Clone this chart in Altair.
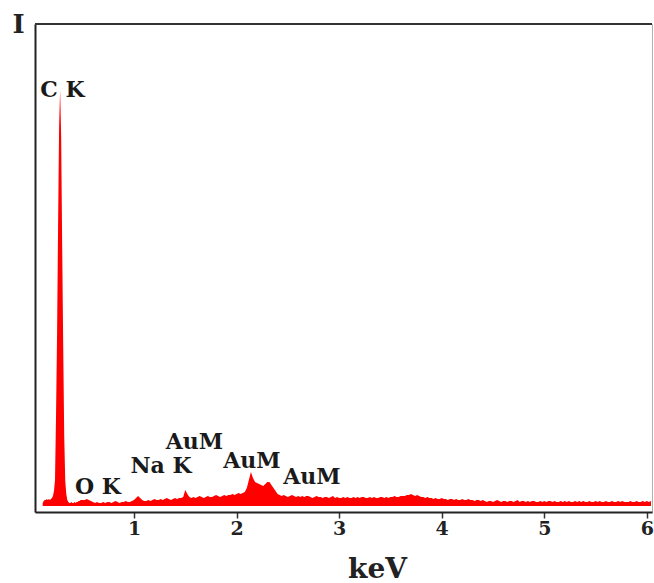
import altair as alt
import numpy as np
import pandas as pd

# EDS spectrum intensities (arbitrary units)
# fine part: 0.11 .. 0.50 keV, step 0.01 keV (C K peak)
counts_fine = [3, 5, 6, 6, 7, 6, 7, 6, 7, 8,
               10, 15, 26, 90, 170, 280, 380, 416, 370, 260,
               160, 70, 25, 12, 6, 4, 3, 3, 4, 3,
               3, 4, 3, 4, 4, 5, 5, 6, 6, 6]
# coarse part: 0.52 .. 6.04 keV, step 0.02 keV
counts_coarse = (
    [6, 7, 6, 5, 4]                                              # 0.52-0.60 O K
    + [3, 4, 3, 3, 4, 3, 4, 4, 3, 4, 5, 4, 3, 4, 4, 5, 4, 4, 5]  # 0.62-0.98
    + [6, 8, 10, 8, 6, 5]                                        # 1.00-1.10 Na K
    + [5, 6, 5, 6, 7, 6, 6, 7, 6, 7, 8, 7, 6, 7, 8, 7, 8, 8, 9]  # 1.12-1.48
    + [16, 12, 9]                                                # 1.50-1.54
    + [8, 9, 8, 9, 10, 9, 8, 9, 10, 9, 9, 10, 11, 10, 9, 10, 11, 10, 11, 11, 12, 11]  # 1.56-1.98
    + [12, 13, 12, 13, 14]                                       # 2.00-2.08
    + [18, 26, 34, 28, 24, 23, 22, 21, 20, 22, 24, 24, 21, 18, 15, 12, 11]  # 2.10-2.42 Au M
    + [10, 11, 10, 9, 10, 11, 10, 9, 10, 9, 10, 9, 10, 10, 9, 8, 9, 10, 9, 9,
       8, 9, 9, 8, 9, 10, 8, 9, 8]                               # 2.44-3.00
    + [8, 9, 8, 9, 8, 8, 9, 8, 9, 8, 9, 9, 8, 8, 9, 8, 9, 8, 8, 9,
       9, 8, 9, 8, 9, 9, 10, 9, 9, 10]                           # 3.02-3.60
    + [10, 10, 11, 11, 12, 11, 10, 11, 10, 9, 9, 8, 9]           # 3.62-3.86
    + [8, 8, 7, 8, 7, 7, 8, 7, 7, 6, 7, 7, 6, 7, 6, 6, 7, 6, 6, 7,
       6, 6, 5, 6, 6, 5, 6]                                      # 3.88-4.40
    + [5, 4, 5, 5, 4, 5, 6, 5, 4, 5, 5, 4, 5, 5, 4, 5, 6, 4, 5, 5,
       4, 5, 4, 5, 5, 4, 4, 5, 4, 5, 4, 5, 5, 4, 5, 4, 4, 5, 4, 5,
       4, 5, 4, 4, 5, 4, 5, 4, 5, 4, 4, 5, 4, 4, 5]             # 4.42-5.50
    + [4, 5, 4, 4, 5, 4, 4, 5, 4, 4, 5, 4, 5, 4, 4, 4, 5, 4, 4, 5,
       4, 4, 5, 4, 5, 4, 5]                                      # 5.52-6.04
)

kev_fine = np.round(0.11 + 0.01 * np.arange(len(counts_fine)), 3)
kev_coarse = np.round(0.52 + 0.02 * np.arange(len(counts_coarse)), 3)

spec = pd.DataFrame({
    "keV": np.concatenate([kev_fine, kev_coarse]),
    "I": counts_fine + counts_coarse,
})

# peak labels
label_text = ["C K", "O K", "Na K", "AuM", "AuM", "AuM"]
label_kev = [0.303, 0.649, 1.263, 1.590, 2.150, 2.735]
label_I = [416, 19, 40, 64, 45, 29]
labels = pd.DataFrame({"text": label_text, "keV": label_kev, "I": label_I})

ticks_x = [1, 2, 3, 4, 5, 6]

W, H = 617, 488
SERIF = "DejaVu Serif"

x_scale = alt.Scale(domain=[0.035, 6.05], nice=False, zero=False)
y_scale = alt.Scale(domain=[-6, 482], nice=False, zero=False)

x_axis = alt.Axis(
    values=ticks_x, format="d", grid=False,
    domainColor="#222222", domainWidth=2,
    tickColor="#333333", tickWidth=1.5, tickSize=6,
    labelFont=SERIF, labelFontWeight="bold", labelFontSize=19,
    labelColor="#222222", labelPadding=1,
    title="keV", titleFont=SERIF, titleFontWeight="bold", titleFontSize=28,
    titleColor="#222222", titleX=342, titleY=65, titleAlign="center",
    titleBaseline="alphabetic",
)
y_axis = alt.Axis(
    grid=False, ticks=False, labels=False,
    domainColor="#222222", domainWidth=2,
    title="I", titleAngle=0, titleX=-17, titleY=0, titleAlign="center",
    titleBaseline="middle", titleFont=SERIF, titleFontWeight="bold",
    titleFontSize=26, titleColor="#222222",
)

area = alt.Chart(spec).mark_area(color="#ff0000", interpolate="linear").encode(
    x=alt.X("keV:Q", scale=x_scale, axis=x_axis),
    y=alt.Y("I:Q", scale=y_scale, axis=y_axis),
    y2=alt.datum(0),
)

text = alt.Chart(labels).mark_text(
    font=SERIF, fontWeight="bold", fontSize=22, color="#1a1a1a",
    align="center", baseline="middle",
).encode(
    x=alt.X("keV:Q", scale=x_scale, axis=x_axis),
    y=alt.Y("I:Q", scale=y_scale, axis=y_axis),
    text="text:N",
)

top_line = alt.Chart(pd.DataFrame({"k": [0]})).mark_rule(
    color="#333333", strokeWidth=2
).encode(x=alt.value(0), x2=alt.value(W), y=alt.value(0))

chart = alt.layer(area, top_line, text).properties(
    width=W, height=H,
    padding={"left": 35, "top": 24, "right": 2, "bottom": 71},
    autosize=alt.AutoSizeParams(type="none"),
    background="white",
).configure_view(stroke="#b0b0b0", strokeWidth=1)

chart.save("out.html", embed_options={"renderer": "svg", "actions": False})
